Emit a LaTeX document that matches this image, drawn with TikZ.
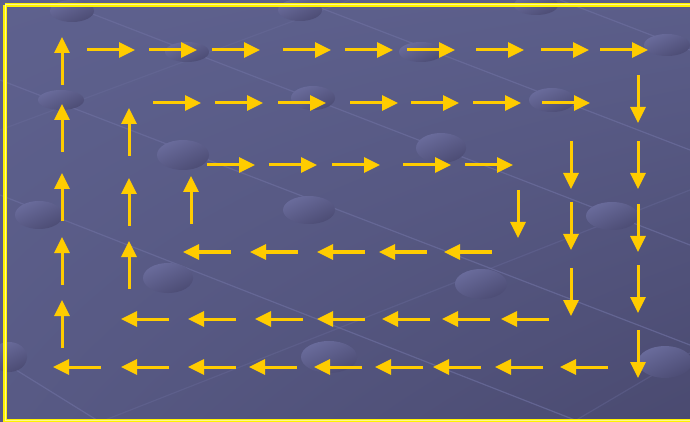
\documentclass[tikz,border=0pt]{standalone}
\usepackage{tikz}
\usetikzlibrary{arrows.meta,shadings}

\definecolor{slatelight}{RGB}{94,97,142}
\definecolor{slatedark}{RGB}{74,74,112}
\definecolor{bubblelight}{RGB}{106,108,156}
\definecolor{bubbledark}{RGB}{76,76,116}
\definecolor{gridline}{RGB}{108,110,158}
\definecolor{arrowgold}{RGB}{255,204,0}

\tikzset{
	flow/.style={arrowgold, line width=1.5pt, -{Triangle[width=7.5pt,length=8pt]}},
	bubble/.style={top color=bubblelight, bottom color=bubbledark, shading angle=25},
	grid line/.style={gridline, line width=0.6pt, opacity=0.7}
}

\begin{document}
\begin{tikzpicture}[x=0.5pt,y=-0.5pt]
		\useasboundingbox (0,0) rectangle (690,422);
		\shade[upper left=slatelight, upper right=slatelight!85!slatedark, lower left=slatelight!70!slatedark, lower right=slatedark] (0,0) rectangle (690,422);
		
		% faint perspective grid
		\draw[grid line] (90,13)--(690,245);
		\draw[grid line] (0,80)--(690,345);
		\draw[grid line] (0,195)--(580,422);
		\draw[grid line] (0,360)--(100,422);
		\draw[grid line] (300,0)--(690,150);
		\draw[grid line] (560,0)--(690,50);
		\draw[grid line, opacity=0.35] (0,130)--(350,0);
		\draw[grid line, opacity=0.35] (100,422)--(690,190);
		\draw[grid line, opacity=0.35] (573,422)--(690,353);
		
		% bubbles
		\foreach \cx/\cy/\rx/\ry in {72/11/22/11, 300/10/22/11, 536/5/22/10, 187/52/22/10, 421/52/22/10, 667/45/23/11,
			61/100/23/10, 313/98/22/12, 552/100/23/12, 183/155/26/15, 441/148/25/15, 39/215/24/14, 309/210/26/14,
			612/216/26/14, 168/278/25/15, 481/284/26/15, 9/357/18/15, 329/357/28/16, 665/362/27/16}
			\shade[bubble] (\cx,\cy) ellipse [x radius=\rx, y radius=\ry];
		
		% outer ring
		\foreach \x in {87,149,212,283,345,407,476,541,600}
			\draw[flow] (\x,50)--(\x+48,50);
		\foreach \y in {75,141,204,265,330}
			\draw[flow] (638,\y)--(638,\y+48);
		\foreach \x in {53,121,188,249,314,375,433,495,560}
			\draw[flow] (\x+48,367)--(\x,367);
		\foreach \y in {37,104,173,237,300}
			\draw[flow] (62,\y+48)--(62,\y);
		
		% middle ring
		\foreach \x in {153,215,278,350,411,473,542}
			\draw[flow] (\x,103)--(\x+48,103);
		\foreach \y in {141,202,268}
			\draw[flow] (571,\y)--(571,\y+48);
		\foreach \x in {121,188,255,317,382,442,501}
			\draw[flow] (\x+48,319)--(\x,319);
		\foreach \y in {108,178,241}
			\draw[flow] (129,\y+48)--(129,\y);
		
		% inner ring
		\foreach \x in {207,269,332,403,465}
			\draw[flow] (\x,165)--(\x+48,165);
		\draw[flow] (518,190)--(518,238);
		\foreach \x in {183,250,317,379,444}
			\draw[flow] (\x+48,252)--(\x,252);
		\draw[flow] (191,224)--(191,176);
		
		% frame
		\draw[yellow, line width=2pt] (5,5)--(700,5) (5,5)--(5,420.5)--(700,420.5);
		\draw[yellow!45!white, line width=0.5pt] (5,5)--(700,5) (5,5)--(5,420.5)--(700,420.5);
	\end{tikzpicture}
\end{document}
